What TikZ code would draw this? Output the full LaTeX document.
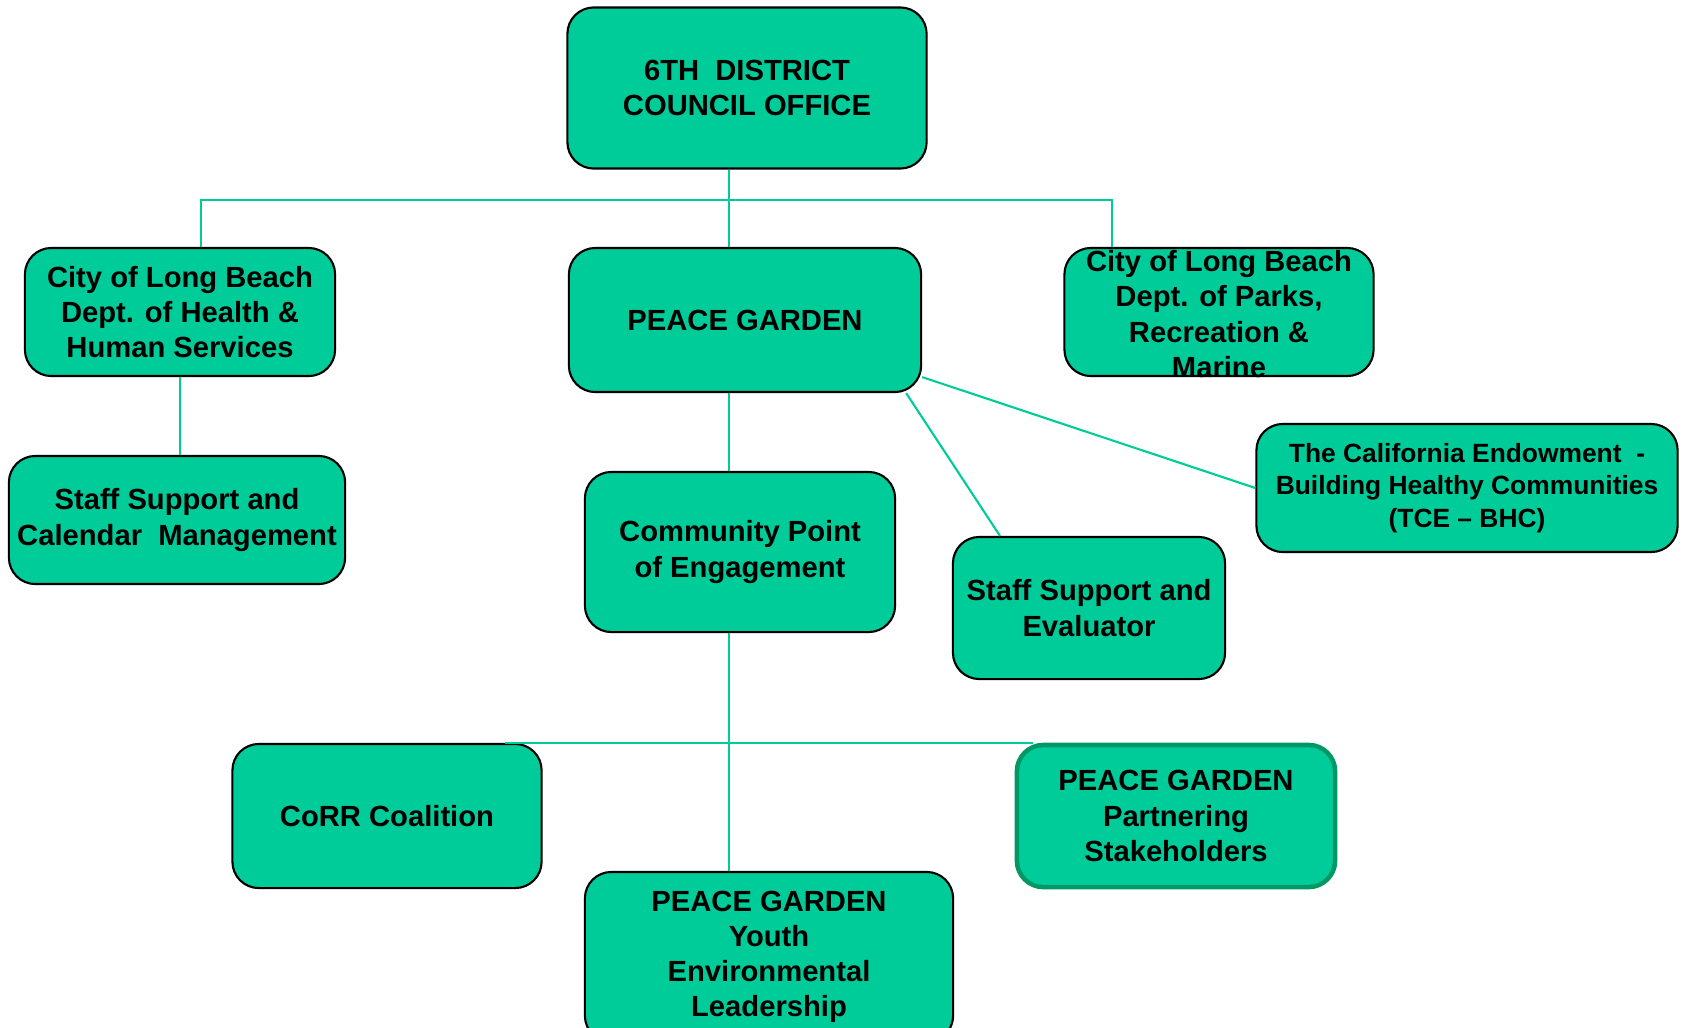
\documentclass[tikz,border=0pt]{standalone}
\usepackage{fontspec}
\setmainfont{Liberation Sans}
\usetikzlibrary{calc}
\definecolor{pgfill}{RGB}{0,204,153}
\definecolor{pgedge}{RGB}{0,153,102}

\begin{document}
\begin{tikzpicture}[x=0.01cm, y=-0.01cm,
    box/.style={draw, line width=0.6pt, fill=pgfill, rounded corners=7.5pt,
      align=center, inner sep=0pt, font=\fontsize{8.3}{10}\selectfont\bfseries},
    boxtext/.style={align=center, inner sep=0pt, font=\fontsize{8.3}{10}\selectfont\bfseries},
    link/.style={pgfill, line width=0.6pt}]
    \useasboundingbox (0, 0) rectangle (1683, 1027);
    \clip (0, 0) rectangle (1683, 1027);

    \coordinate (trunk) at (729, 200);
    \coordinate (busL) at (201, 200);
    \coordinate (busR) at (1112, 200);
    \coordinate (lowL) at (505, 743);
    \coordinate (lowR) at (1033, 743);

    % top level
    \node[box, minimum width=3.59cm, minimum height=1.61cm] (council) at (747, 88)
      {6TH\ \ DISTRICT\\COUNCIL OFFICE};

    % second row
    \node[box, minimum width=3.10cm, minimum height=1.28cm] (health) at (180, 312)
      {City of Long Beach\\Dept. of Health \&\\Human Services};
    \node[box, minimum width=3.52cm, minimum height=1.44cm] (peace) at (745, 320)
      {PEACE GARDEN};
    \node[box, minimum width=3.09cm, minimum height=1.28cm] (parks) at (1219, 312) {};
    \begin{scope}
      \clip (parks.north west) rectangle (parks.south east);
      \node[boxtext] (parkstext) at (1219, 314)
        {City of Long Beach\\Dept. of Parks,\\Recreation \&\\Marine};
    \end{scope}

    % third row
    \node[box, minimum width=3.36cm, minimum height=1.28cm] (calendar) at (177, 520)
      {Staff Support and\\Calendar\ \ Management};
    \node[box, minimum width=3.10cm, minimum height=1.60cm] (engage) at (740, 552)
      {Community Point\\of Engagement};
    \node[box, minimum width=2.72cm, minimum height=1.42cm] (evaluator) at (1089, 608)
      {Staff Support and\\Evaluator};
    \node[box, minimum width=4.21cm, minimum height=1.28cm,
      font=\fontsize{7.5}{9.2}\selectfont\bfseries] (tce) at (1467, 488)
      {The California Endowment\ \ -\\Building Healthy Communities\\(TCE -- BHC)};

    % bottom row
    \node[box, minimum width=3.09cm, minimum height=1.44cm] (corr) at (387, 816)
      {CoRR Coalition};
    \node[box, draw=pgedge, line width=1.3pt, minimum width=3.18cm, minimum height=1.42cm]
      (partners) at (1176, 816) {PEACE GARDEN\\Partnering\\Stakeholders};
    \node[box, minimum width=3.68cm, minimum height=1.70cm] (youth) at (769, 957)
      {PEACE GARDEN\\Youth\\Environmental\\Leadership};

    % connectors
    \draw[link] (council.south -| trunk) -- (peace.north -| trunk);
    \draw[link] (health.north -| busL) -- (busL) -- (busR) -- (parks.north -| busR);
    \draw[link] (health.south) -- (calendar.north -| health.south);
    \draw[link] (peace.south -| trunk) -- (engage.north -| trunk);
    \draw[link] ($(peace.south east)+(-16, 0)$) -- ($(evaluator.north)+(-89, 0)$);
    \draw[link] ($(peace.south east)+(0, -16)$) -- (tce.west);
    \draw[link] (engage.south -| trunk) -- (youth.north -| trunk);
    \draw[link] (lowL) -- (lowR);
\end{tikzpicture}
\end{document}
